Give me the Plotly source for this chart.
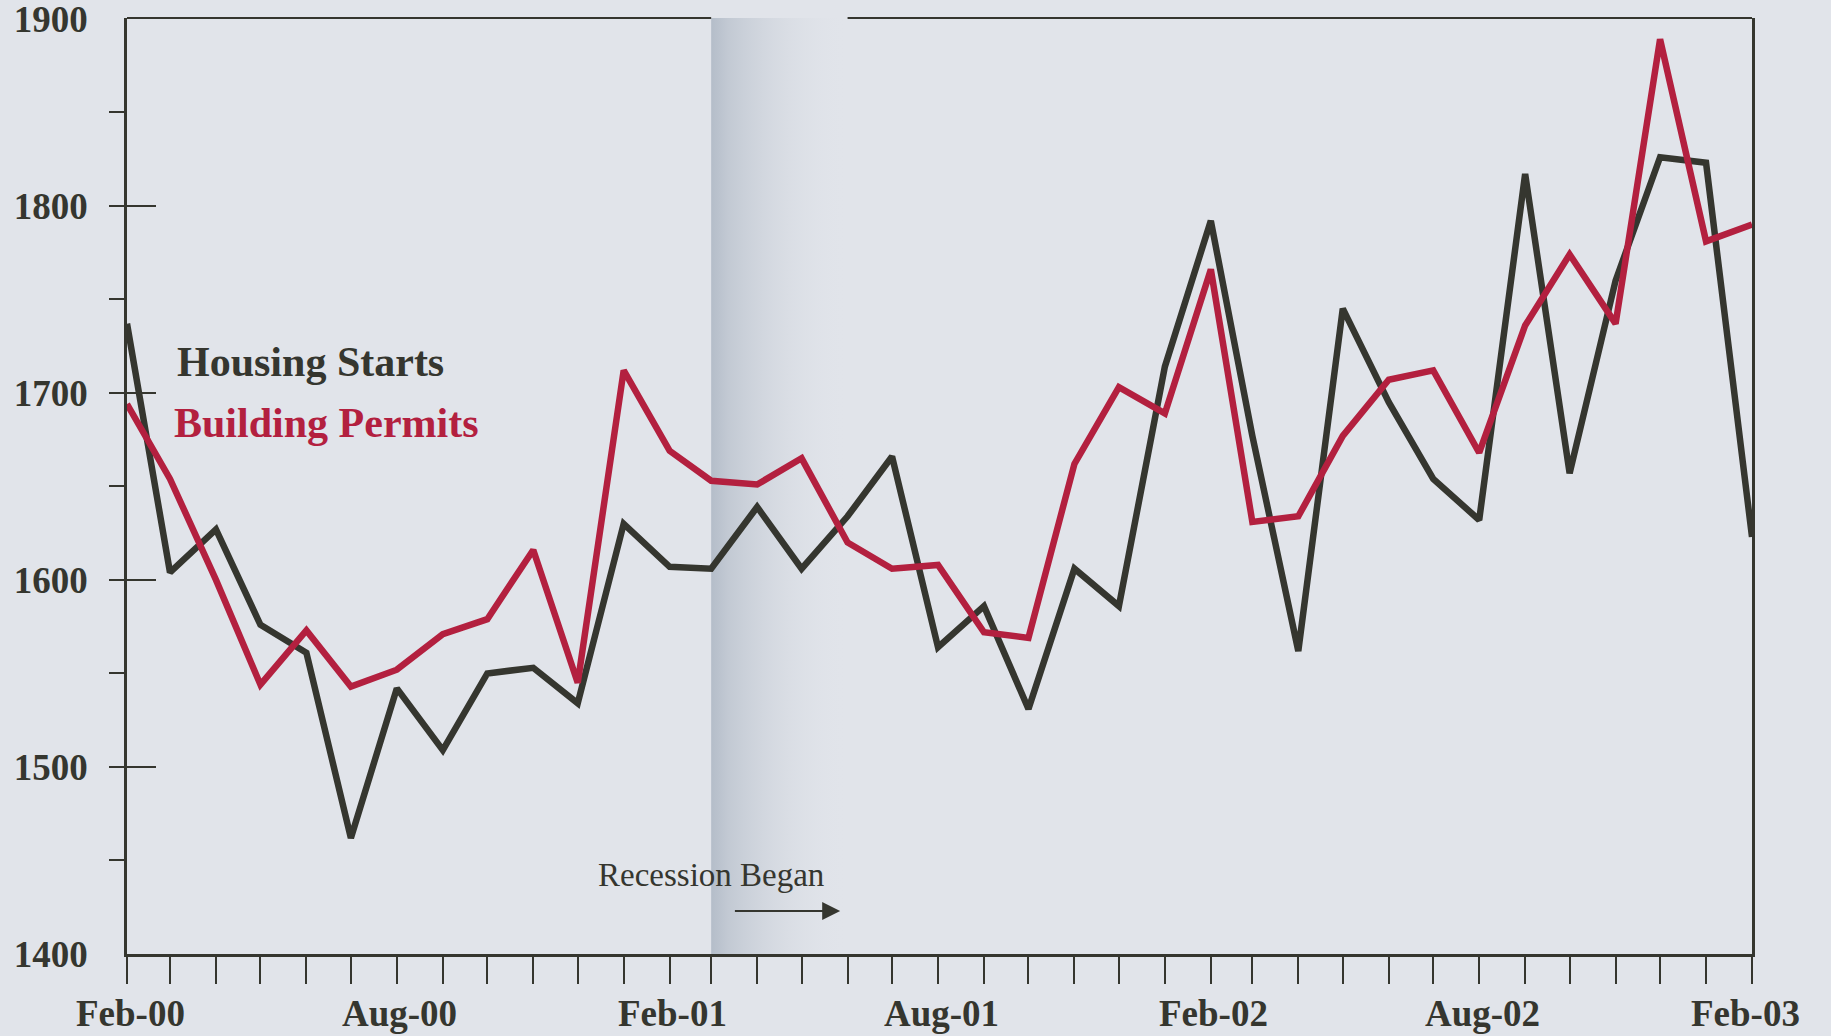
import plotly.graph_objects as go
import pandas as pd

# --- DATA ---
months = pd.date_range("2000-02-01", "2003-02-01", freq="MS")

housing_starts = [1737, 1604, 1627, 1576, 1561, 1462, 1542, 1509, 1550, 1553,
                  1534, 1630, 1607, 1606, 1639, 1606, 1634, 1666, 1564, 1586,
                  1531, 1606, 1586, 1714, 1792, 1677, 1562, 1745, 1695, 1654,
                  1632, 1817, 1657, 1760, 1826, 1823, 1623]

building_permits = [1694, 1654, 1600, 1544, 1573, 1543, 1552, 1571, 1579, 1616,
                    1545, 1712, 1669, 1653, 1651, 1665, 1620, 1606, 1608, 1572,
                    1569, 1662, 1703, 1689, 1766, 1631, 1634, 1677, 1707, 1712,
                    1668, 1736, 1774, 1737, 1889, 1781, 1790]

x_labels = ["Feb-00", "Aug-00", "Feb-01", "Aug-01", "Feb-02", "Aug-02", "Feb-03"]
x_label_dates = ["2000-02-01", "2000-08-01", "2001-02-01", "2001-08-01",
                 "2002-02-01", "2002-08-01", "2003-02-01"]

# recession began March 2001 (shaded band Mar-01 .. Jun-01)
REC_START = "2001-03-01"
REC_END = "2001-06-01"

# --- STYLE ---
BG = "#e1e4ea"
INK = "#35362f"
RED = "#b3203f"
SERIF = "Liberation Serif, Times New Roman, serif"
label_shift = {"Feb-03": -7}

fig = go.Figure()

# recession shading (gradient, fading to the right)
fig.add_trace(go.Scatter(
    x=[REC_START, REC_END, REC_END, REC_START],
    y=[1400, 1400, 1901, 1901],
    fill="toself", mode="none", hoverinfo="skip", showlegend=False,
    fillgradient=dict(type="horizontal",
                      colorscale=[[0, "rgba(180,189,201,1)"], [0.12, "rgba(194,201,211,1)"],
                                  [1, "rgba(225,228,234,0)"]])
))

fig.add_trace(go.Scatter(x=months, y=housing_starts, mode="lines", name="Housing Starts",
                         line=dict(color=INK, width=6.5), showlegend=False))
fig.add_trace(go.Scatter(x=months, y=building_permits, mode="lines", name="Building Permits",
                         line=dict(color=RED, width=6.5), showlegend=False))

# top frame, interrupted over the shaded band
for x0, x1 in [(months[0], REC_START), (REC_END, months[-1])]:
    fig.add_shape(type="line", xref="x", yref="paper", x0=x0, x1=x1, y0=1, y1=1,
                  line=dict(color=INK, width=2))

# x labels
for lab, d in zip(x_labels, x_label_dates):
    fig.add_annotation(x=d, y=0, xref="x", yref="paper", text=lab, showarrow=False,
                       xanchor="center", yanchor="middle", yshift=-59,
                       xshift=label_shift.get(lab, 3),
                       font=dict(family=SERIF, size=37, color=INK, weight="bold"))

# series labels
fig.add_annotation(x=0.0295, y=0.632, xref="paper", yref="paper", text="Housing Starts",
                   showarrow=False, xanchor="left", yanchor="middle",
                   font=dict(family=SERIF, size=42, color=INK, weight="bold"))
fig.add_annotation(x=0.0277, y=0.567, xref="paper", yref="paper", text="Building Permits",
                   showarrow=False, xanchor="left", yanchor="middle",
                   font=dict(family=SERIF, size=42, color=RED, weight="bold"))

# recession note + arrow
fig.add_annotation(x=REC_START, y=1442, text="Recession Began", showarrow=False,
                   xanchor="center", yanchor="middle",
                   font=dict(family=SERIF, size=33, color=INK))
fig.add_annotation(x="2001-05-27", y=1423, ax="2001-03-16", ay=1423,
                   xref="x", yref="y", axref="x", ayref="y", text="",
                   showarrow=True, arrowhead=2, arrowsize=1.8, arrowwidth=2, arrowcolor=INK)

fig.update_layout(
    width=1831, height=1036,
    margin=dict(l=127, r=79, t=18, b=82),
    paper_bgcolor=BG, plot_bgcolor=BG,
    showlegend=False,
    xaxis=dict(range=[months[0], months[-1]], showgrid=False, zeroline=False,
               showline=True, linecolor=INK, linewidth=3, automargin=False,
               tickmode="array", tickvals=months, showticklabels=False,
               ticks="outside", ticklen=27, tickwidth=2, tickcolor=INK),
    yaxis=dict(range=[1400, 1900.4], showgrid=False, zeroline=False,
               showline=True, linecolor=INK, linewidth=2.5, mirror=True, automargin=False,
               tickmode="linear", tick0=1400, dtick=100,
               ticks="inside", ticklen=29, tickwidth=2, tickcolor=INK,
               ticklabelstandoff=29, ticklabeloverflow="allow",
               tickfont=dict(family=SERIF, size=37, color=INK, weight="bold"),
               minor=dict(ticks="outside", dtick=50, tick0=1400, ticklen=15,
                          tickwidth=2, tickcolor=INK, showgrid=False)),
)

fig.write_html("out.html", config={"displayModeBar": False},
               post_script="document.body.style.margin='0';")
